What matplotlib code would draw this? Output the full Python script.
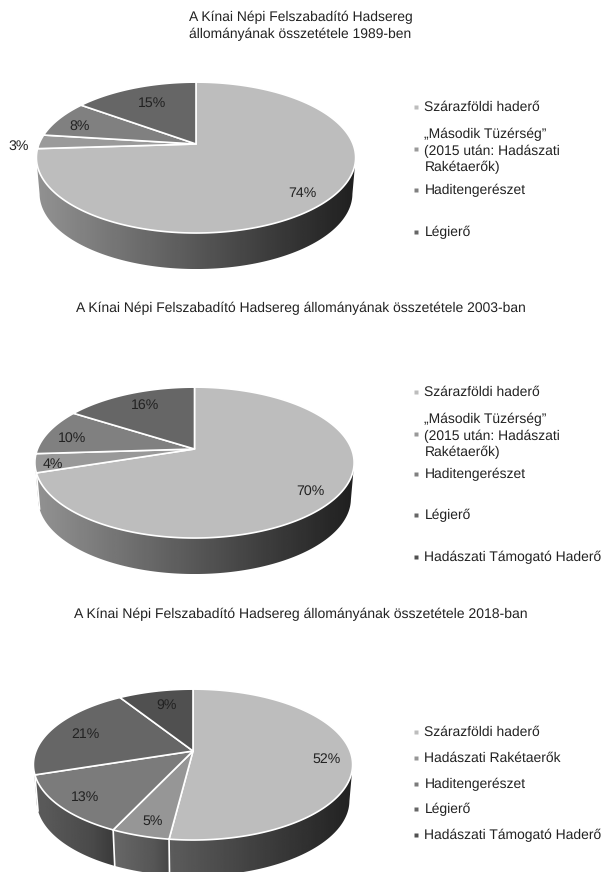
import numpy as np
import matplotlib
matplotlib.use("Agg")
import matplotlib.pyplot as plt
from matplotlib.patches import Polygon

plt.rcParams['font.family'] = ['Liberation Sans', 'DejaVu Sans']
plt.rcParams['text.hinting'] = 'none'

# shares per service branch, clockwise from twelve o'clock
values_1989 = [74, 3, 8, 15]
values_2003 = [70, 4, 10, 16]
values_2018 = [52, 5, 13, 21, 9]

labels_1989 = ["74%", "3%", "8%", "15%"]
labels_2003 = ["70%", "4%", "10%", "16%"]
labels_2018 = ["52%", "5%", "13%", "21%", "9%"]

title_1989 = "A Kínai Népi Felszabadító Hadsereg\nállományának összetétele 1989-ben"
title_2003 = "A Kínai Népi Felszabadító Hadsereg állományának összetétele 2003-ban"
title_2018 = "A Kínai Népi Felszabadító Hadsereg állományának összetétele 2018-ban"

legend_1989 = ["Szárazföldi haderő", "„Második Tüzérség”\n(2015 után: Hadászati\nRakétaerők)", "Haditengerészet", "Légierő"]
legend_2003 = legend_1989 + ["Hadászati Támogató Haderő"]
legend_2018 = ["Szárazföldi haderő", "Hadászati Rakétaerők", "Haditengerészet", "Légierő", "Hadászati Támogató Haderő"]

top_grays = {
    1989: ["#bdbdbd", "#9a9a9a", "#808080", "#666666"],
    2003: ["#bdbdbd", "#999999", "#808080", "#666666"],
    2018: ["#bdbdbd", "#969696", "#7b7b7b", "#666666", "#505050"],
}
# gray ramps along each visible side panel (left, middle, right)
side_ramps = {
    1989: [(146, 62, 32)] + [(120, 100, 80)] * 3,
    2003: [(146, 62, 32)] + [(120, 100, 80)] * 3,
    2018: [(92, 50, 34), (104, 86, 70), (92, 74, 58), (100, 90, 80), (80, 70, 60)],
}

TILT = 0.18
SPREAD = -73
RADIUS = 157
DEPTH = 36


def project(cx, apex_y, u, v):
    # perspective view of the unit disc
    w = TILT * v + 1
    return cx + RADIUS * u / w, apex_y + SPREAD * v / w


def draw_pie(ax, values, labels, grays, ramps, cx, apex_y, label_pos):
    edges = np.cumsum([0] + list(values)) / sum(values) * 2 * np.pi

    # side panels, only the part of the rim that faces the viewer
    for i in range(len(values)):
        t = np.linspace(edges[i], edges[i + 1], 300)
        t = t[np.cos(t) < -TILT]
        if len(t) < 2:
            continue
        x, y = project(cx, apex_y, np.sin(t), np.cos(t))
        t_order = np.argsort(x)
        x, y = x[t_order], y[t_order]
        low_x = cx + (x - cx) * 0.98
        px = np.concatenate([x, low_x[::-1]])
        py = np.concatenate([y, y[::-1] + DEPTH])
        panel = Polygon(np.column_stack([px, py]), closed=True, fc="none", ec="none")
        ax.add_patch(panel)
        x0, x1 = px.min(), px.max()
        ramp = np.interp(np.linspace(0, 1, 128), [0, 0.72, 1], ramps[i])[None, :]
        img = ax.imshow(ramp, cmap="gray", vmin=0, vmax=255, aspect="auto",
                        extent=[x0, x1, py.max(), py.min()], zorder=1)
        img.set_clip_path(panel)

    # white seams on the side where two shares meet
    for e in edges[:-1]:
        if np.cos(e) < -TILT:
            x, y = project(cx, apex_y, np.sin(e), np.cos(e))
            ax.plot([x, cx + (x - cx) * 0.98], [y, y + DEPTH], color="white", lw=1.2, zorder=2)

    # top surface
    for i in range(len(values)):
        t = np.linspace(edges[i], edges[i + 1], 300)
        x, y = project(cx, apex_y, np.sin(t), np.cos(t))
        pts = np.column_stack([np.r_[cx, x], np.r_[apex_y, y]])
        ax.add_patch(Polygon(pts, closed=True, fc=grays[i], ec="white", lw=1.2,
                             joinstyle="round", zorder=3))

    for text, (lx, ly) in zip(labels, label_pos):
        ax.text(lx, ly, text, ha="center", va="center", fontsize=10.2, color="#222222", zorder=4)


def draw_legend(ax, entries, grays, ys):
    for text, color, y in zip(entries, grays, ys):
        marker_y = y - 2 if "\n" in text else y
        ax.plot(415.5, marker_y, "s", ms=2.6, color=color, mec="none")
        ax.text(424.5, y, text, ha="left", va="center", fontsize=10, color="#222222", linespacing=1.34)


fig = plt.figure(figsize=(6.05, 8.72), dpi=100)
ax = fig.add_axes([0, 0, 1, 1])

draw_pie(ax, values_1989, labels_1989, top_grays[1989], side_ramps[1989], 196, 144,
         [(302, 193), (19, 146), (80, 126), (152, 103)])
draw_pie(ax, values_2003, labels_2003, top_grays[2003], side_ramps[2003], 194.5, 449,
         [(310, 491), (53, 464), (72, 438), (145, 405)])
draw_pie(ax, values_2018, labels_2018, top_grays[2018], side_ramps[2018], 193, 751,
         [(327, 759), (153, 821), (85, 797), (85, 734), (167, 705)])

draw_legend(ax, legend_1989, top_grays[1989], [107, 151, 190, 232])
draw_legend(ax, legend_2003, top_grays[2003] + ["#505050"], [392, 436, 474, 515, 557])
draw_legend(ax, legend_2018, top_grays[2018], [732, 758, 784, 809, 835])

ax.text(300.5, 26, title_1989, ha="center", va="center", fontsize=10, color="#222222", linespacing=1.34)
ax.text(300.5, 308, title_2003, ha="center", va="center", fontsize=10, color="#222222")
ax.text(300.5, 614, title_2018, ha="center", va="center", fontsize=10.1, color="#222222")

ax.set_xlim(0, 605)
ax.set_ylim(872, 0)
ax.axis("off")
fig.savefig("out.png", dpi=100)
